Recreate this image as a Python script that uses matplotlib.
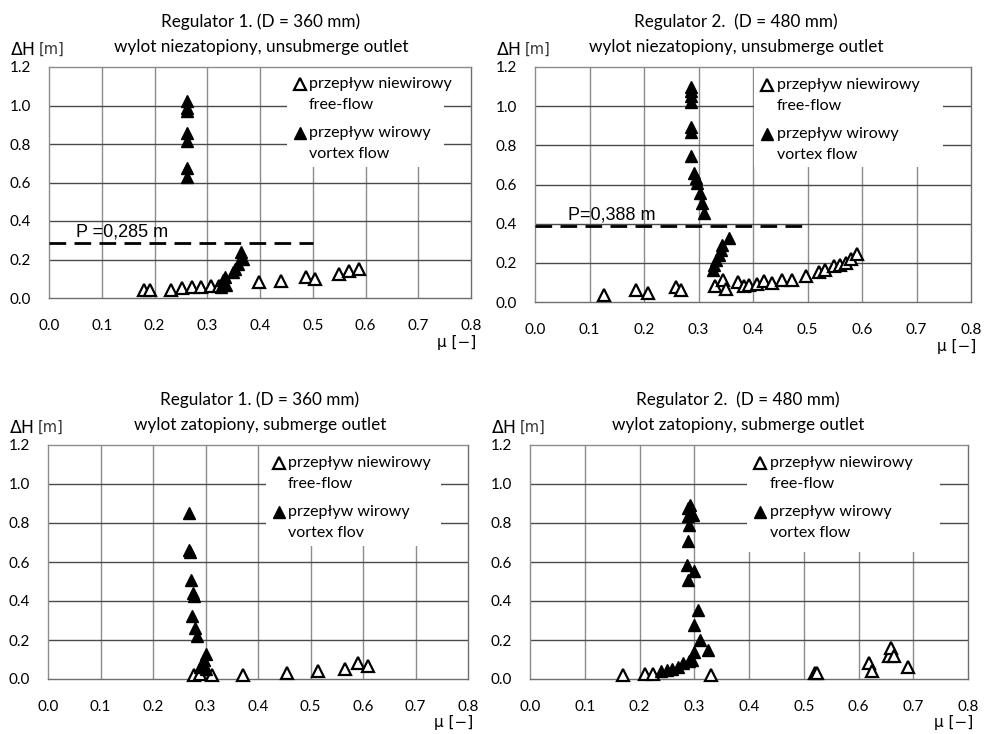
import matplotlib
matplotlib.use("Agg")
import matplotlib.pyplot as plt
from matplotlib.patches import Rectangle

plt.rcParams['font.family'] = ['Lato', 'DejaVu Sans']

# ---------------- data ----------------
# Panel 1: Regulator 1, unsubmerged outlet
r1u_free_mu = [0.180, 0.192, 0.231, 0.253, 0.272, 0.288, 0.307, 0.323, 0.399, 0.440, 0.488, 0.504, 0.549, 0.568, 0.587]
r1u_free_dh = [0.040, 0.042, 0.043, 0.050, 0.055, 0.055, 0.060, 0.062, 0.083, 0.088, 0.109, 0.100, 0.126, 0.140, 0.152]
r1u_vort_mu = [0.262, 0.262, 0.262, 0.262, 0.262, 0.262, 0.262,
               0.364, 0.368, 0.358, 0.352, 0.349, 0.333, 0.330, 0.336, 0.326]
r1u_vort_dh = [1.022, 0.988, 0.970, 0.857, 0.814, 0.675, 0.631,
               0.240, 0.205, 0.178, 0.152, 0.135, 0.109, 0.091, 0.065, 0.056]
r1u_P = 0.285

# Panel 2: Regulator 2, unsubmerged outlet
r2u_free_mu = [0.127, 0.186, 0.207, 0.259, 0.268, 0.331, 0.345, 0.350, 0.373, 0.384, 0.393, 0.408,
               0.420, 0.435, 0.454, 0.472, 0.498, 0.521, 0.533, 0.549, 0.560, 0.570, 0.580, 0.590]
r2u_free_dh = [0.037, 0.063, 0.046, 0.075, 0.063, 0.080, 0.114, 0.066, 0.100, 0.080, 0.088, 0.093,
               0.105, 0.097, 0.114, 0.114, 0.134, 0.151, 0.165, 0.182, 0.190, 0.200, 0.220, 0.245]
r2u_vort_mu = [0.287, 0.287, 0.287, 0.287, 0.287, 0.287, 0.287, 0.292, 0.295, 0.298, 0.302, 0.306, 0.310,
               0.356, 0.344, 0.341, 0.338, 0.332, 0.329, 0.326]
r2u_vort_dh = [1.100, 1.075, 1.050, 1.023, 0.896, 0.870, 0.743, 0.658, 0.633, 0.607, 0.556, 0.505, 0.454,
               0.326, 0.292, 0.267, 0.241, 0.216, 0.190, 0.165]
r2u_P = 0.388

# Panel 3: Regulator 1, submerged outlet
r1s_free_mu = [0.278, 0.290, 0.312, 0.372, 0.455, 0.515, 0.565, 0.590, 0.610]
r1s_free_dh = [0.020, 0.025, 0.020, 0.022, 0.030, 0.040, 0.050, 0.080, 0.065]
r1s_vort_mu = [0.268, 0.268, 0.270, 0.273, 0.276, 0.278, 0.275, 0.280, 0.283, 0.300, 0.298, 0.295, 0.290, 0.300]
r1s_vort_dh = [0.851, 0.660, 0.650, 0.509, 0.440, 0.425, 0.321, 0.260, 0.220, 0.130, 0.100, 0.080, 0.060, 0.050]

# Panel 4: Regulator 2, submerged outlet
r2s_free_mu = [0.170, 0.210, 0.225, 0.330, 0.520, 0.525, 0.620, 0.625, 0.655, 0.660, 0.665, 0.690]
r2s_free_dh = [0.020, 0.025, 0.025, 0.020, 0.030, 0.030, 0.080, 0.040, 0.120, 0.160, 0.120, 0.060]
r2s_vort_mu = [0.292, 0.289, 0.298, 0.289, 0.291, 0.288, 0.287, 0.300, 0.289, 0.306, 0.300,
               0.310, 0.325, 0.300, 0.295, 0.290, 0.280, 0.270, 0.260, 0.250, 0.240]
r2s_vort_dh = [0.894, 0.877, 0.842, 0.834, 0.790, 0.706, 0.586, 0.552, 0.509, 0.355, 0.278,
               0.200, 0.150, 0.140, 0.100, 0.090, 0.080, 0.060, 0.050, 0.045, 0.040]

x_ticks = [0.0, 0.1, 0.2, 0.3, 0.4, 0.5, 0.6, 0.7, 0.8]
y_ticks = [0.0, 0.2, 0.4, 0.6, 0.8, 1.0, 1.2]

titles = [("Regulator 1. (D = 360 mm)", "wylot niezatopiony, unsubmerge outlet"),
          ("Regulator 2.  (D = 480 mm)", "wylot niezatopiony, unsubmerge outlet"),
          ("Regulator 1. (D = 360 mm)", "wylot zatopiony, submerge outlet"),
          ("Regulator 2.  (D = 480 mm)", "wylot zatopiony, submerge outlet")]
leg_free = ("przepływ niewirowy", "free-flow")
leg_vort = [("przepływ wirowy", "vortex flow"), ("przepływ wirowy", "vortex flow"),
            ("przepływ wirowy", "vortex flov"), ("przepływ wirowy", "vortex flow")]

# ---------------- layout ----------------
W, H = 984, 734
fig = plt.figure(figsize=(W / 100, H / 100), dpi=100)

def px_axes(x0, x1, ytop, ybot):
    return fig.add_axes([x0 / W, 1 - ybot / H, (x1 - x0) / W, (ybot - ytop) / H])

axes = [px_axes(49, 471, 67, 298),
        px_axes(535, 971, 67, 302),
        px_axes(48, 468, 445, 679),
        px_axes(530, 968, 445, 679)]

leg_boxes = [(287, 167), (754, 167), (266, 546), (747, 552)]
title_cx = [261, 736, 260, 738]
p_text_x = [0.051, 0.060]

panels = [(r1u_free_mu, r1u_free_dh, r1u_vort_mu, r1u_vort_dh, r1u_P, "P =0,285 m"),
          (r2u_free_mu, r2u_free_dh, r2u_vort_mu, r2u_vort_dh, r2u_P, "P=0,388 m"),
          (r1s_free_mu, r1s_free_dh, r1s_vort_mu, r1s_vort_dh, None, None),
          (r2s_free_mu, r2s_free_dh, r2s_vort_mu, r2s_vort_dh, None, None)]

ms = 8.5
for i, ax in enumerate(axes):
    fmu, fdh, vmu, vdh, P, Ptxt = panels[i]
    ax.set_xlim(0, 0.8)
    ax.set_ylim(0, 1.2)
    ax.set_xticks(x_ticks)
    ax.set_yticks(y_ticks)
    ax.set_xticklabels([f"{v:.1f}" for v in x_ticks], fontsize=11)
    ax.set_yticklabels([f"{v:.1f}" for v in y_ticks], fontsize=11)
    ax.tick_params(axis='x', length=0, pad=15)
    ax.tick_params(axis='y', length=0, pad=13)
    for xv in x_ticks[1:-1]:
        ax.axvline(xv, color='#8c8c8c', lw=1.0, zorder=1)
    for yv in y_ticks[1:-1]:
        ax.axhline(yv, color='#4a4a4a', lw=1.0, zorder=1)
    for s in ax.spines.values():
        s.set_color('#6e6e6e')
        s.set_linewidth(1.0)
    ax.spines['left'].set_color('#8c8c8c')
    ax.spines['top'].set_color('#8c8c8c')

    pos = ax.get_position()
    x0, x1 = pos.x0 * W, pos.x1 * W
    ytop = (1 - pos.y1) * H
    ybot = (1 - pos.y0) * H

    # legend area (white box hiding the grid)
    bx0, by0 = leg_boxes[i]
    fx = (bx0 - x0) / (x1 - x0)
    fy = (ybot - by0) / (ybot - ytop)
    ax.add_patch(Rectangle((fx, fy), 0.935 - fx, 1 - fy, transform=ax.transAxes,
                           facecolor='white', edgecolor='none', zorder=2))
    lx = fx + 0.03
    tx = lx + 0.022
    ax.plot([lx], [0.925], marker='^', ms=8, mfc='white', mec='black', mew=1.6,
            transform=ax.transAxes, clip_on=False, zorder=5)
    ax.text(tx, 0.925, leg_free[0], transform=ax.transAxes, fontsize=11.5, va='center', ha='left', zorder=5)
    ax.text(tx, 0.835, leg_free[1], transform=ax.transAxes, fontsize=11.5, va='center', ha='left', zorder=5)
    ax.plot([lx], [0.715], marker='^', ms=8, mfc='black', mec='black', mew=1.0,
            transform=ax.transAxes, clip_on=False, zorder=5)
    ax.text(tx, 0.715, leg_vort[i][0], transform=ax.transAxes, fontsize=11.5, va='center', ha='left', zorder=5)
    ax.text(tx, 0.625, leg_vort[i][1], transform=ax.transAxes, fontsize=11.5, va='center', ha='left', zorder=5)

    # data
    ax.plot(fmu, fdh, linestyle='none', marker='^', ms=ms, mfc='white', mec='black', mew=1.6,
            zorder=4, clip_on=False)
    ax.plot(vmu, vdh, linestyle='none', marker='^', ms=ms, mfc='black', mec='black', mew=1.0,
            zorder=4, clip_on=False)
    if P is not None:
        ax.plot([0, 0.5], [P, P], color='black', lw=2.0, dashes=(6, 3), zorder=3)
        ax.text(p_text_x[i], P + 0.035, Ptxt, fontsize=13,
                family=['Liberation Sans', 'DejaVu Sans'], va='baseline', ha='left', zorder=5)

    # titles and axis labels
    cx = title_cx[i] / W
    fig.text(cx, 1 - (ytop - 45) / H, titles[i][0], ha='center', va='center', fontsize=12.3)
    fig.text(cx, 1 - (ytop - 20) / H, titles[i][1], ha='center', va='center', fontsize=12.3)
    fig.text((x0 - 13) / W, 1 - (ytop - 17) / H, "ΔH", ha='right', va='center',
             fontsize=12.5, family=['DejaVu Sans'])
    fig.text((x0 - 10) / W, 1 - (ytop - 18) / H, "[m]", ha='left', va='center',
             fontsize=10.5, family=['DejaVu Sans'], color='#333333')
    fig.text((x1 - 14) / W, 1 - (ybot + 44) / H, "μ [−]",
             ha='center', va='center', fontsize=11, family=['DejaVu Sans'])

fig.savefig("out.png", dpi=100)
